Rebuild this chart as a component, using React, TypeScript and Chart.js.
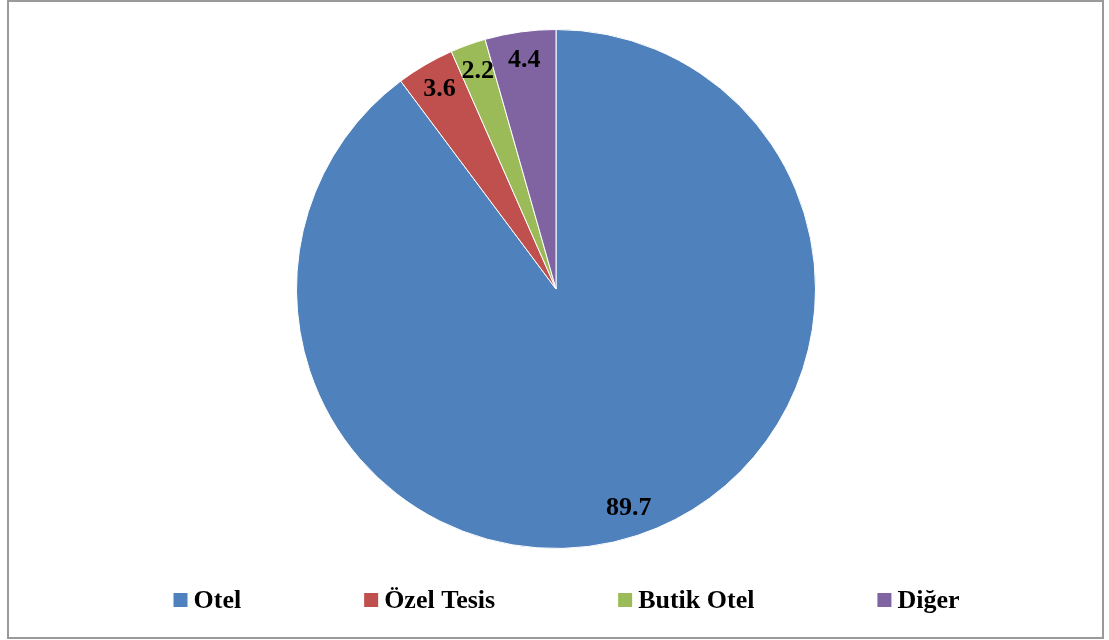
import { useEffect, useRef } from "react";
import { Chart, registerables } from "chart.js";

Chart.register(...registerables);

const categories = ["Otel", "Özel Tesis", "Butik Otel", "Diğer"];
const shares = [89.7, 3.6, 2.2, 4.4];
const colors = ["#4F81BD", "#C0504D", "#9BBB59", "#8064A2"];

const FONT = '"Liberation Serif", "Times New Roman", serif';

const framePlugin = {
  id: "frame",
  beforeDraw(chart: any) {
    const ctx = chart.ctx;
    ctx.save();
    ctx.fillStyle = "#ffffff";
    ctx.fillRect(0, 0, chart.width, chart.height);
    ctx.strokeStyle = "#9a9a9a";
    ctx.lineWidth = 2;
    ctx.strokeRect(8, 1, 1095, 637);
    ctx.restore();
  },
};

const valueLabelPlugin = {
  id: "valueLabels",
  afterDatasetsDraw(chart: any) {
    const ctx = chart.ctx;
    const meta = chart.getDatasetMeta(0);
    const data = chart.data.datasets[0].data as number[];
    ctx.save();
    ctx.font = `bold 26px ${FONT}`;
    ctx.fillStyle = "#000";
    ctx.textAlign = "center";
    ctx.textBaseline = "middle";
    meta.data.forEach((arc: any, i: number) => {
      const p = arc.getProps(["x", "y", "startAngle", "endAngle", "outerRadius"], true);
      const mid = (p.startAngle + p.endAngle) / 2;
      const r = p.outerRadius * 0.89;
      ctx.fillText(data[i].toFixed(1), p.x + Math.cos(mid) * r, p.y + Math.sin(mid) * r);
    });
    ctx.restore();
  },
};

const legendPlugin = {
  id: "customLegend",
  afterDraw(chart: any) {
    const ctx = chart.ctx;
    const labels = chart.data.labels as string[];
    const bg = chart.data.datasets[0].backgroundColor as string[];
    const box = 14;
    const textGap = 6;
    const itemGap = 123;
    ctx.save();
    ctx.font = `bold 26px ${FONT}`;
    const widths = labels.map((l) => ctx.measureText(l).width);
    const total =
      widths.reduce((a, w) => a + box + textGap + w, 0) + itemGap * (labels.length - 1);
    let x = chart.width / 2 + 12 - total / 2;
    const cy = 600;
    ctx.textBaseline = "middle";
    ctx.textAlign = "left";
    labels.forEach((l, i) => {
      ctx.fillStyle = bg[i];
      ctx.fillRect(x, cy - box / 2, box, box);
      ctx.fillStyle = "#000";
      ctx.fillText(l, x + box + textGap, cy + 1);
      x += box + textGap + widths[i] + itemGap;
    });
    ctx.restore();
  },
};

export default function App() {
  const ref = useRef<HTMLCanvasElement | null>(null);

  useEffect(() => {
    if (!ref.current) return;
    const chart = new Chart(ref.current, {
      type: "pie",
      data: {
        labels: categories,
        datasets: [
          {
            data: shares,
            backgroundColor: colors,
            borderColor: "#ffffff",
            borderWidth: 1,
          },
        ],
      },
      options: {
        responsive: false,
        animation: false,
        devicePixelRatio: 1,
        layout: { padding: { top: 29, bottom: 91, left: 200, right: 197 } },
        plugins: {
          legend: { display: false },
          tooltip: { enabled: false },
        },
      },
      plugins: [framePlugin, valueLabelPlugin, legendPlugin],
    });
    return () => chart.destroy();
  }, []);

  return (
    <div style={{ position: "absolute", left: 0, top: 0, width: 1109, height: 640 }}>
      <canvas ref={ref} width={1109} height={640} style={{ width: 1109, height: 640 }} />
    </div>
  );
}
